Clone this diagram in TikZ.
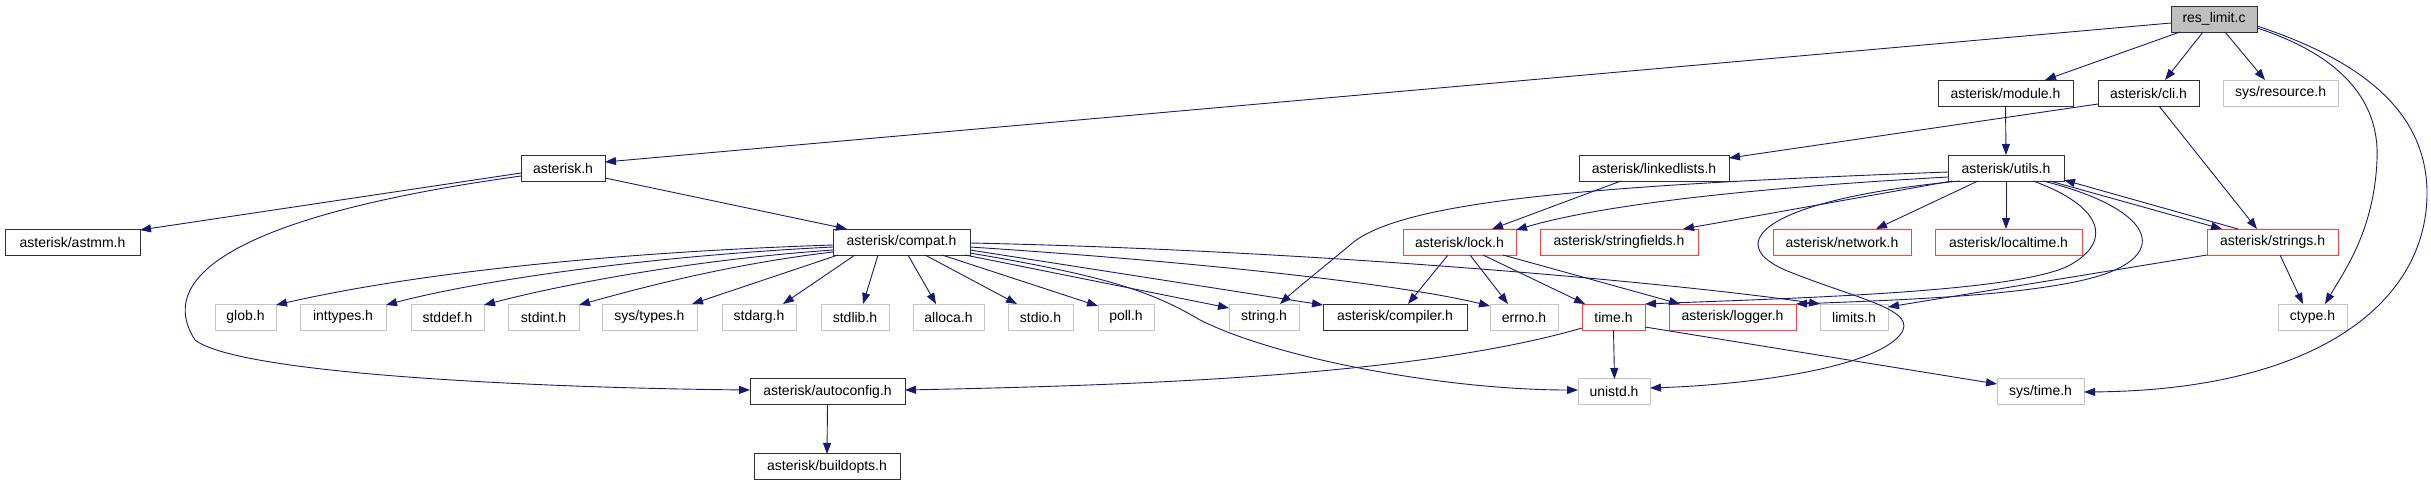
\documentclass[tikz,border=0pt]{standalone}
\usepackage{fontspec}
\setmainfont{Liberation Sans}
\usetikzlibrary{arrows.meta,calc}
\definecolor{edgec}{HTML}{191970}
\definecolor{redb}{HTML}{FF4040}
\definecolor{grayb}{HTML}{C4C4C4}
\definecolor{fillg}{HTML}{BFBFBF}
\definecolor{blkb}{HTML}{303030}
\begin{document}
\begin{tikzpicture}[x=1pt,y=-1pt,
  box/.style={draw, minimum height=26pt, inner sep=0pt, line width=0.9pt, font=\fontsize{14}{16}\selectfont},
  blk/.style={box, draw=blkb},
  gry/.style={box, draw=grayb},
  rd/.style={box, draw=redb},
  edge/.style={draw=edgec, line width=0.9pt, -{Triangle[length=11pt,width=8pt]}}]
\useasboundingbox (0,0) rectangle (2431,485);
% nodes
\node[blk, fill=fillg, minimum width=86pt] (res) at (2214,19) {res\_limit.c};
\node[blk, minimum width=135pt] (module) at (2005.5,93) {asterisk/module.h};
\node[blk, minimum width=101pt] (cli) at (2148.5,93) {asterisk/cli.h};
\node[gry, minimum width=115pt] (resource) at (2280.5,93) {sys/resource.h};
\node[blk, minimum width=84pt] (asterisk) at (563,168) {asterisk.h};
\node[blk, minimum width=150pt] (linked) at (1654,168) {asterisk/linkedlists.h};
\node[blk, minimum width=116pt] (utils) at (2006,168) {asterisk/utils.h};
\node[blk, minimum width=135pt] (astmm) at (72.5,242) {asterisk/astmm.h};
\node[blk, minimum width=137pt] (compat) at (901.5,242) {asterisk/compat.h};
\node[rd, minimum width=113pt] (lock) at (1459.5,242) {asterisk/lock.h};
\node[rd, minimum width=158pt] (strf) at (1619,242) {asterisk/stringfields.h};
\node[rd, minimum width=138pt] (network) at (1842,242) {asterisk/network.h};
\node[rd, minimum width=147pt] (localtime) at (2008.5,242) {asterisk/localtime.h};
\node[rd, minimum width=131pt] (strings) at (2272.5,242) {asterisk/strings.h};
\node[gry, minimum width=61pt] (glob) at (245.5,317) {glob.h};
\node[gry, minimum width=86pt] (inttypes) at (343,317) {inttypes.h};
\node[gry, minimum width=73pt] (stddef) at (447.5,317) {stddef.h};
\node[gry, minimum width=71pt] (stdint) at (543.5,317) {stdint.h};
\node[gry, minimum width=95pt] (systypes) at (649.5,317) {sys/types.h};
\node[gry, minimum width=74pt] (stdarg) at (759,317) {stdarg.h};
\node[gry, minimum width=68pt] (stdlib) at (855,317) {stdlib.h};
\node[gry, minimum width=71pt] (alloca) at (948.5,317) {alloca.h};
\node[gry, minimum width=65pt] (stdio) at (1040.5,317) {stdio.h};
\node[gry, minimum width=56pt] (poll) at (1126,317) {poll.h};
\node[gry, minimum width=70pt] (string) at (1264,317) {string.h};
\node[blk, minimum width=144pt] (compiler) at (1395,317) {asterisk/compiler.h};
\node[gry, minimum width=68pt] (errno) at (1524,317) {errno.h};
\node[rd, minimum width=63pt] (time) at (1613.5,317) {time.h};
\node[rd, minimum width=127pt] (logger) at (1732.5,317) {asterisk/logger.h};
\node[gry, minimum width=68pt] (limits) at (1854,317) {limits.h};
\node[gry, minimum width=69pt] (ctype) at (2312.5,317) {ctype.h};
\node[blk, minimum width=155pt] (autoconfig) at (827.5,391.5) {asterisk/autoconfig.h};
\node[gry, minimum width=72pt] (unistd) at (1614,391.5) {unistd.h};
\node[gry, minimum width=87pt] (systime) at (2040.5,391.5) {sys/time.h};
\node[blk, minimum width=146pt] (buildopts) at (827,466.5) {asterisk/buildopts.h};
% edges from res_limit.c
\draw[edge] ([shift={(-43,4)}]res.center) -- ([shift={(42,-6)}]asterisk.center);
\draw[edge] ([shift={(-34,13)}]res.center) -- ([shift={(39.5,-13)}]module.center);
\draw[edge] ([shift={(-11,13)}]res.center) -- ([shift={(16.5,-13)}]cli.center);
\draw[edge] ([shift={(11,13)}]res.center) -- ([shift={(-15.5,-13)}]resource.center);
\draw[edge] ([shift={(43,9)}]res.center) .. controls (2340,55) and (2380,100) .. (2377,160) .. controls (2374,230) and (2345,270) .. ([shift={(12.5,-13)}]ctype.center);
\draw[edge] ([shift={(43,7)}]res.center) .. controls (2360,60) and (2425,110) .. (2427,190) .. controls (2429,300) and (2320,390) .. ([shift={(43.5,0.5)}]systime.center);
% asterisk.h
\draw[edge] ([shift={(-42,5)}]asterisk.center) -- ([shift={(67.5,-12)}]astmm.center);
\draw[edge] ([shift={(42,10)}]asterisk.center) -- ([shift={(-54.5,-13)}]compat.center);
\draw[edge] ([shift={(-42,8)}]asterisk.center) .. controls (260,212) and (150,270) .. (195,340) .. controls (240,375) and (550,388) .. ([shift={(-77.5,-1.5)}]autoconfig.center);
% module, cli, linkedlists
\draw[edge] ([shift={(0,13)}]module.center) -- ([shift={(0,-13)}]utils.center);
\draw[edge] ([shift={(-50.5,11)}]cli.center) -- ([shift={(75,-10)}]linked.center);
\draw[edge] ([shift={(10.5,13)}]cli.center) -- ([shift={(-15.5,-13)}]strings.center);
\draw[edge] ([shift={(-33,13)}]linked.center) -- ([shift={(32.5,-13)}]lock.center);
% compat.h
\draw[edge] ([shift={(-68.5,3)}]compat.center) .. controls (620,252) and (420,272) .. ([shift={(30.5,-12)}]glob.center);
\draw[edge] ([shift={(-68.5,5)}]compat.center) .. controls (650,256) and (480,280) .. ([shift={(43,-12)}]inttypes.center);
\draw[edge] ([shift={(-68.5,8)}]compat.center) .. controls (690,260) and (560,285) .. ([shift={(36.5,-12)}]stddef.center);
\draw[edge] ([shift={(-68.5,10)}]compat.center) .. controls (730,264) and (640,288) .. ([shift={(35.5,-12)}]stdint.center);
\draw[edge] ([shift={(-63.5,13)}]compat.center) -- ([shift={(42.5,-13)}]systypes.center);
\draw[edge] ([shift={(-46.5,13)}]compat.center) -- ([shift={(24,-13)}]stdarg.center);
\draw[edge] ([shift={(-23.5,13)}]compat.center) -- ([shift={(8,-13)}]stdlib.center);
\draw[edge] ([shift={(6.5,13)}]compat.center) -- ([shift={(-12.5,-13)}]alloca.center);
\draw[edge] ([shift={(23.5,13)}]compat.center) -- ([shift={(-23.5,-13)}]stdio.center);
\draw[edge] ([shift={(40.5,13)}]compat.center) -- ([shift={(-28,-11)}]poll.center);
\draw[edge] ([shift={(63.5,13)}]compat.center) -- ([shift={(-35,-9)}]string.center);
\draw[edge] ([shift={(68.5,8)}]compat.center) -- ([shift={(-72,-12)}]compiler.center);
\draw[edge] ([shift={(68.5,5)}]compat.center) .. controls (1200,262) and (1400,284) .. ([shift={(-34,-11)}]errno.center);
\draw[edge] ([shift={(68.5,1)}]compat.center) .. controls (1300,250) and (1650,280) .. ([shift={(-34,-13)}]limits.center);
\draw[edge] ([shift={(68.5,11)}]compat.center) .. controls (1100,275) and (1150,290) .. (1200,320) .. controls (1280,360) and (1450,390) .. ([shift={(-36,-1.5)}]unistd.center);
% lock.h
\draw[edge] ([shift={(-11.5,13)}]lock.center) -- ([shift={(13,-13)}]compiler.center);
\draw[edge] ([shift={(10.5,13)}]lock.center) -- ([shift={(-16,-13)}]errno.center);
\draw[edge] ([shift={(23.5,13)}]lock.center) -- ([shift={(-28.5,-13)}]time.center);
\draw[edge] ([shift={(43.5,13)}]lock.center) -- ([shift={(-52.5,-13)}]logger.center);
% utils.h
\draw[edge] ([shift={(-58,9)}]utils.center) .. controls (1750,188) and (1600,205) .. ([shift={(56.5,-12)}]lock.center);
\draw[edge] ([shift={(-54,13)}]utils.center) -- ([shift={(64,-13)}]strf.center);
\draw[edge] ([shift={(-58,4)}]utils.center) .. controls (1600,185) and (1400,200) .. (1350,245) .. controls (1320,270) and (1295,290) .. ([shift={(16,-13)}]string.center);
\draw[edge] ([shift={(-46,13)}]utils.center) .. controls (1760,200) and (1720,245) .. (1790,272) .. controls (1860,300) and (1920,310) .. (1900,335) .. controls (1870,370) and (1740,385) .. ([shift={(36,-3.5)}]unistd.center);
\draw[edge] ([shift={(-28,13)}]utils.center) -- ([shift={(34,-13)}]network.center);
\draw[edge] ([shift={(0,13)}]utils.center) -- ([shift={(-2.5,-13)}]localtime.center);
\draw[edge] ([shift={(27,13)}]utils.center) .. controls (2100,205) and (2115,240) .. (2070,265) .. controls (2020,292) and (1800,298) .. ([shift={(31.5,-13)}]time.center);
\draw[edge] ([shift={(37,13)}]utils.center) .. controls (2140,205) and (2170,245) .. (2115,270) .. controls (2060,295) and (1900,300) .. ([shift={(63.5,-13)}]logger.center);
\draw[edge] ([shift={(44,13)}]utils.center) -- ([shift={(-50.5,-13)}]strings.center);
% strings.h
\draw[edge] ([shift={(-34.5,-13)}]strings.center) -- ([shift={(58,12)}]utils.center);
\draw[edge] ([shift={(-65.5,13)}]strings.center) -- ([shift={(34,-10)}]limits.center);
\draw[edge] ([shift={(7.5,13)}]strings.center) -- ([shift={(-9.5,-13)}]ctype.center);
% time.h
\draw[edge] ([shift={(0,13)}]time.center) -- ([shift={(0.5,-12.5)}]unistd.center);
\draw[edge] ([shift={(31.5,10)}]time.center) -- ([shift={(-43.5,-7.5)}]systime.center);
\draw[edge] ([shift={(-31.5,11)}]time.center) .. controls (1420,375) and (1150,385) .. ([shift={(77.5,-1.5)}]autoconfig.center);
% autoconfig
\draw[edge] ([shift={(0,13)}]autoconfig.center) -- ([shift={(0,-12.5)}]buildopts.center);
\end{tikzpicture}
\end{document}
